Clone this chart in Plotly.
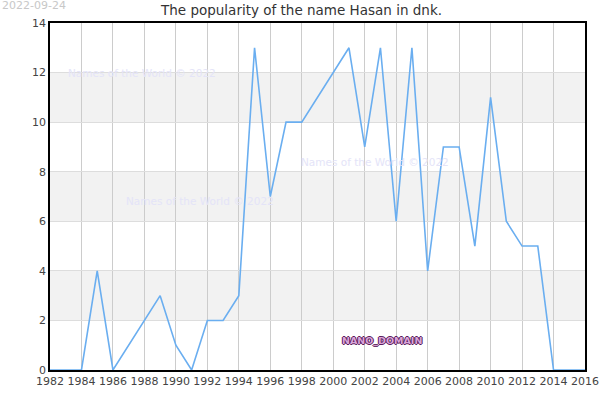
import plotly.graph_objects as go

years = [1982, 1983, 1984, 1985, 1986, 1989, 1990, 1991, 1992, 1993, 1994, 1995,
         1996, 1997, 1998, 2001, 2002, 2003, 2004, 2005, 2006, 2007, 2008, 2009,
         2010, 2011, 2012, 2013, 2014, 2015, 2016]
counts = [0, 0, 0, 4, 0, 3, 1, 0, 2, 2, 3, 13,
          7, 10, 10, 13, 9, 13, 6, 13, 4, 9, 9, 5,
          11, 6, 5, 5, 0, 0, 0]
x_ticks = list(range(1982, 2017, 2))
y_ticks = list(range(0, 15, 2))
band_ranges = [(2, 4), (6, 8), (10, 12)]

title_text = "The popularity of the name Hasan in dnk."
date_text = "2022-09-24"
watermark = "Names of the World © 2022"
domain_text = "NANO_DOMAIN"

fig = go.Figure()
fig.add_trace(go.Scatter(x=years, y=counts, mode="lines",
                         line=dict(color="#6aaef0", width=1.6),
                         hoverinfo="x+y", showlegend=False))

shapes = []
for y0, y1 in band_ranges:
    shapes.append(dict(type="rect", xref="paper", yref="y", x0=0, x1=1, y0=y0, y1=y1,
                       fillcolor="#f2f2f2", line=dict(width=0), layer="below"))
fig.update_layout(shapes=shapes)

fig.update_layout(
    width=600, height=400,
    margin=dict(l=50, r=15, t=23, b=30, autoexpand=False),
    paper_bgcolor="white", plot_bgcolor="white",
    font=dict(family="DejaVu Sans", size=11, color="#444"),
    xaxis=dict(range=[1982, 2016], tickvals=x_ticks, ticktext=[str(v) for v in x_ticks],
               showgrid=True, gridcolor="#cccccc", gridwidth=1, automargin=False,
               showline=True, linecolor="black", linewidth=1.5, mirror=True,
               zeroline=False, ticks="", tickfont=dict(size=11, color="#444")),
    yaxis=dict(range=[0, 14], tickvals=y_ticks, ticktext=[str(v) for v in y_ticks],
               showgrid=True, gridcolor="#dddddd", gridwidth=1, automargin=False,
               showline=True, linecolor="black", linewidth=1.5, mirror=True,
               zeroline=False, ticks="", tickfont=dict(size=11, color="#444")),
    annotations=[
        dict(text=title_text, xref="paper", yref="paper", x=0.5, xshift=-17, y=1, yshift=13,
             xanchor="center", yanchor="middle", showarrow=False,
             font=dict(size=13.5, color="#333")),
        dict(text=date_text, xref="paper", yref="paper", x=0, xshift=-50, y=1, yshift=18,
             xanchor="left", yanchor="middle", showarrow=False,
             font=dict(size=11, color="#c8c8c8")),
        dict(text=watermark, x=1983.0, y=12, xanchor="left", yanchor="middle",
             showarrow=False, font=dict(size=10.5, color="#e4e4f8")),
        dict(text=watermark, x=1986.7, y=6.8, xanchor="left", yanchor="middle",
             showarrow=False, font=dict(size=10.5, color="#e4e4f8")),
        dict(text=watermark, x=1997.8, y=8.4, xanchor="left", yanchor="middle",
             showarrow=False, font=dict(size=10.5, color="#e4e4f8")),
        dict(text="<b>" + domain_text + "</b>", x=2003.1, y=1.2, xanchor="center", yanchor="middle",
             showarrow=False,
             font=dict(size=9.5, color="#d9a6d9",
                       shadow="1px 0 0 #5a1a5a, -1px 0 0 #5a1a5a, 0 1px 0 #5a1a5a, 0 -1px 0 #5a1a5a")),
    ],
)

fig.write_html("out.html")
